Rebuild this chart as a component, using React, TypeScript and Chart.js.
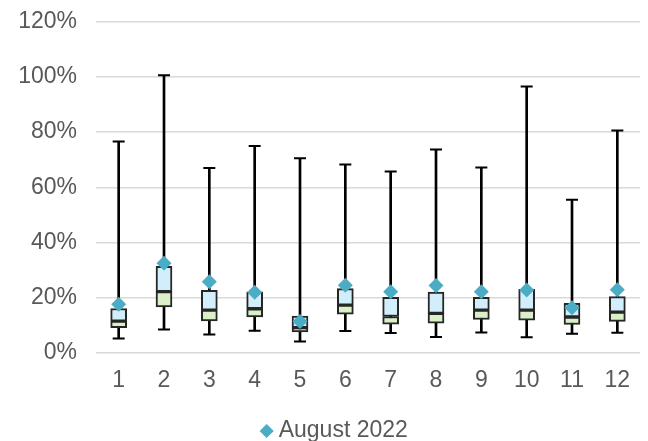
import React, { useEffect, useRef } from "react";
import { Chart, registerables } from "chart.js";

Chart.register(...registerables);

const categories = ["1", "2", "3", "4", "5", "6", "7", "8", "9", "10", "11", "12"];
const maxValues = [76.6, 100.6, 67.0, 75.0, 70.5, 68.3, 65.7, 73.7, 67.2, 96.5, 55.5, 80.6];
const q3Values = [16.1, 31.4, 22.7, 22.1, 13.3, 23.3, 20.1, 22.0, 20.1, 23.0, 18.0, 20.4];
const medianValues = [11.5, 22.2, 15.5, 16.0, 9.1, 17.3, 13.2, 14.3, 15.5, 15.5, 13.0, 14.8];
const q1Values = [9.1, 16.7, 11.6, 13.0, 7.6, 14.0, 10.4, 10.8, 12.1, 11.9, 10.3, 11.4];
const minValues = [5.2, 8.5, 6.7, 8.0, 4.1, 7.9, 7.2, 5.8, 7.4, 5.7, 6.9, 7.3];
const august2022 = [17.6, 32.5, 25.8, 22.0, 11.4, 24.5, 22.2, 24.4, 22.2, 22.8, 16.4, 22.9];
const yTicks = [0, 20, 40, 60, 80, 100, 120];

const FONT = "'Liberation Sans', Arial, sans-serif";
const FONT_SIZE = 23;
const TEXT = "#595959";
const EDGE = "#262626";

const legendShift = {
  id: "legendShift",
  afterLayout(chart: any) {
    const lg = chart.legend;
    if (!lg) return;
    lg.left += 17;
    lg.right += 17;
    lg.top += 11.5;
    lg.bottom += 11.5;
  },
};

export default function App() {
  const ref = useRef<HTMLCanvasElement | null>(null);

  useEffect(() => {
    if (!ref.current) return;
    const chart = new Chart(ref.current, {
      type: "bar",
      data: {
        labels: categories,
        datasets: [
          {
            type: "line",
            label: "August 2022",
            data: august2022,
            showLine: false,
            pointStyle: "rectRot",
            pointRadius: 7.5,
            pointBackgroundColor: "#4BACC6",
            pointBorderColor: "#4BACC6",
            pointBorderWidth: 0,
            backgroundColor: "#4BACC6",
            borderColor: "#4BACC6",
          } as any,
          {
            type: "line",
            label: "maxCap",
            data: maxValues,
            showLine: false,
            pointStyle: "line",
            pointRadius: 6,
            pointBorderColor: "#000000",
            pointBorderWidth: 2,
            borderColor: "#000000",
          } as any,
          {
            type: "line",
            label: "minCap",
            data: minValues,
            showLine: false,
            pointStyle: "line",
            pointRadius: 6,
            pointBorderColor: "#000000",
            pointBorderWidth: 2,
            borderColor: "#000000",
          } as any,
          {
            label: "upper",
            data: categories.map((_, i) => [medianValues[i], q3Values[i]]),
            backgroundColor: "#D3EEFB",
            borderColor: EDGE,
            borderWidth: 2,
            borderSkipped: false,
            barThickness: 16,
            grouped: false,
          } as any,
          {
            label: "lower",
            data: categories.map((_, i) => [q1Values[i], medianValues[i]]),
            backgroundColor: "#DAF0C8",
            borderColor: EDGE,
            borderWidth: 2,
            borderSkipped: false,
            barThickness: 16,
            grouped: false,
          } as any,
          {
            label: "whisker",
            data: categories.map((_, i) => [minValues[i], maxValues[i]]),
            backgroundColor: "#000000",
            borderWidth: 0,
            barThickness: 2,
            grouped: false,
          } as any,
        ],
      },
      options: {
        animation: false,
        responsive: false,
        devicePixelRatio: 1,
        layout: { padding: { left: 0, right: 8, top: 21.7, bottom: 0 } },
        scales: {
          x: {
            grid: { display: false, drawTicks: false },
            border: { display: false },
            ticks: { color: TEXT, font: { family: FONT, size: FONT_SIZE }, padding: 14 },
            afterFit: (s: any) => {
              s.height = s.height - 4.5;
            },
          },
          y: {
            min: 0,
            max: 120,
            afterBuildTicks: (s: any) => {
              s.ticks = yTicks.map((v) => ({ value: v }));
            },
            afterFit: (s: any) => {
              s.width = 96;
              s.paddingTop = 0;
              s.paddingBottom = 0;
            },
            grid: { color: "#D9D9D9", lineWidth: 1.5, drawTicks: false },
            border: { display: false },
            ticks: {
              color: TEXT,
              font: { family: FONT, size: FONT_SIZE },
              padding: 19,
              callback: (v: any) => `${v}%`,
            },
          },
        },
        plugins: {
          tooltip: { enabled: false },
          legend: {
            position: "bottom",
            labels: {
              color: TEXT,
              font: { family: FONT, size: FONT_SIZE },
              usePointStyle: true,
              boxWidth: 1,
              boxHeight: 10,
              padding: 4,
              filter: (item: any) => item.text === "August 2022",
            },
          },
        },
      },
      plugins: [legendShift],
    });
    return () => chart.destroy();
  }, []);

  return (
    <div style={{ position: "absolute", left: 0, top: 0, width: 648, height: 441, background: "#ffffff" }}>
      <canvas ref={ref} width={648} height={441} style={{ width: 648, height: 441 }} />
    </div>
  );
}
